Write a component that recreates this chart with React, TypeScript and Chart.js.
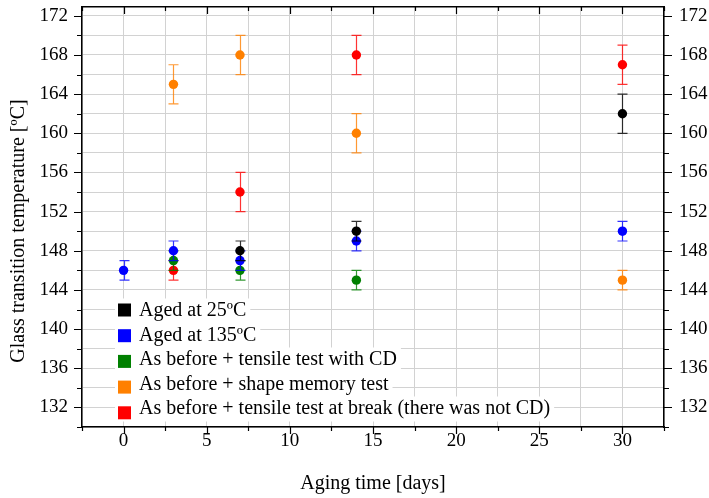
import React, { useEffect, useRef } from 'react';
import { Chart, registerables } from 'chart.js';

Chart.register(...registerables);

const FONT = "'Liberation Serif', 'Times New Roman', serif";

const seriesLabels = [
  'Aged at 25ºC',
  'Aged at 135ºC',
  'As before + tensile test with CD',
  'As before + shape memory test',
  'As before + tensile test at break (there was not CD)',
];
const seriesColors = ['#000000', '#0000ff', '#008000', '#ff8000', '#ff0000'];

const days25 = [7, 14, 30];
const tg25 = [148, 150, 162];
const err25 = [1, 1, 2];

const days135 = [0, 3, 7, 14, 30];
const tg135 = [146, 148, 147, 149, 150];
const err135 = [1, 1, 1, 1, 1];

const daysCD = [3, 7, 14];
const tgCD = [147, 146, 145];
const errCD = [1, 1, 1];

const daysSM = [3, 7, 14, 30];
const tgSM = [165, 168, 160, 145];
const errSM = [2, 2, 2, 1];

const daysBreak = [3, 7, 14, 30];
const tgBreak = [146, 154, 168, 167];
const errBreak = [1, 2, 2, 2];

const xTickLabels = [0, 5, 10, 15, 20, 25, 30];
const yTickLabels = [132, 136, 140, 144, 148, 152, 156, 160, 164, 168, 172];

const xTitle = 'Aging time [days]';
const yTitle = 'Glass transition temperature [ºC]';

const X_MIN = -2.5;
const X_MAX = 32.5;
const Y_MIN = 130;
const Y_MAX = 172.9;

const xGridValues: number[] = [];
for (let v = X_MIN; v <= X_MAX + 1e-6; v += 2.5) xGridValues.push(v);
const yGridValues: number[] = [];
for (let v = Y_MIN; v <= 172 + 1e-6; v += 2) yGridValues.push(v);

export default function App() {
  const ref = useRef<HTMLCanvasElement>(null);

  useEffect(() => {
    const canvas = ref.current;
    if (!canvas) return;

    const xsAll = [days25, days135, daysCD, daysSM, daysBreak];
    const ysAll = [tg25, tg135, tgCD, tgSM, tgBreak];
    const esAll = [err25, err135, errCD, errSM, errBreak];

    const datasets: any[] = seriesLabels.map((label, k) => ({
      label,
      data: xsAll[k].map((x, i) => ({ x, y: ysAll[k][i] })),
      errors: esAll[k],
      backgroundColor: seriesColors[k],
      borderColor: seriesColors[k],
      pointRadius: 4.7,
      pointHoverRadius: 4.7,
      pointBorderWidth: 0,
      showLine: false,
    }));

    const errorBars = {
      id: 'errorBars',
      beforeDatasetDraw(chart: any, args: any) {
        const ds = chart.data.datasets[args.index];
        const xs = chart.scales.x;
        const ys = chart.scales.y;
        const ctx = chart.ctx;
        ctx.save();
        ctx.strokeStyle = ds.borderColor;
        ctx.globalAlpha = 0.8;
        ctx.lineWidth = 1.2;
        ds.data.forEach((p: any, i: number) => {
          const e = ds.errors[i];
          const px = Math.round(xs.getPixelForValue(p.x)) + 0.5;
          const top = ys.getPixelForValue(p.y + e);
          const bot = ys.getPixelForValue(p.y - e);
          ctx.beginPath();
          ctx.moveTo(px, top);
          ctx.lineTo(px, bot);
          ctx.moveTo(px - 5, top);
          ctx.lineTo(px + 5, top);
          ctx.moveTo(px - 5, bot);
          ctx.lineTo(px + 5, bot);
          ctx.stroke();
        });
        ctx.restore();
      },
    };

    const decorations = {
      id: 'decorations',
      afterDraw(chart: any) {
        const ctx = chart.ctx;
        const xs = chart.scales.x;
        const ys = chart.scales.y;
        const { left, right, top, bottom } = chart.chartArea;
        ctx.save();
        ctx.strokeStyle = '#000';
        ctx.lineWidth = 1.2;
        ctx.beginPath();
        yGridValues.forEach((v) => {
          const py = Math.round(ys.getPixelForValue(v)) + 0.5;
          const len = v % 4 === 0 ? 8 : 5;
          ctx.moveTo(left, py);
          ctx.lineTo(left - len, py);
          ctx.moveTo(right, py);
          ctx.lineTo(right + len, py);
        });
        xGridValues.forEach((v) => {
          const px = Math.round(xs.getPixelForValue(v)) + 0.5;
          const major = Math.abs(v % 5) < 1e-6;
          ctx.moveTo(px, bottom);
          ctx.lineTo(px, bottom + (major ? 7 : 4));
          ctx.moveTo(px, top);
          ctx.lineTo(px, top + (major ? 7 : 4));
        });
        ctx.stroke();

        // y title
        ctx.fillStyle = '#000';
        ctx.font = `20px ${FONT}`;
        ctx.textAlign = 'center';
        ctx.textBaseline = 'middle';
        ctx.translate(19, 231);
        ctx.rotate(-Math.PI / 2);
        ctx.fillText(yTitle, 0, 0);
        ctx.setTransform(1, 0, 0, 1, 0, 0);

        // legend
        ctx.font = `20px ${FONT}`;
        ctx.textAlign = 'left';
        ctx.textBaseline = 'middle';
        const dsets = chart.data.datasets;
        dsets.forEach((ds: any, i: number) => {
          const ty = bottom - 116 + 24.5 * i;
          const w = ctx.measureText(ds.label).width;
          ctx.fillStyle = '#fff';
          ctx.fillRect(left + 33, ty - 12.5, w + 28, 25);
        });
        dsets.forEach((ds: any, i: number) => {
          const ty = bottom - 116 + 24.5 * i;
          const by = bottom - 117 + 25.7 * i;
          ctx.fillStyle = ds.backgroundColor;
          ctx.fillRect(left + 36, by - 6.5, 13, 13);
          ctx.fillStyle = '#000';
          ctx.fillText(ds.label, left + 57, ty);
        });
        ctx.restore();
      },
    };

    const noPad = (s: any) => {
      s.paddingTop = 0;
      s.paddingBottom = 0;
      s.paddingLeft = 0;
      s.paddingRight = 0;
    };
    const setXTicks = (s: any) => {
      s.ticks = xGridValues.map((v) => ({ value: v }));
    };
    const setYTicks = (s: any) => {
      s.ticks = yGridValues.map((v) => ({ value: v }));
    };

    const chart = new Chart(canvas, {
      type: 'scatter',
      data: { datasets },
      options: {
        responsive: false,
        devicePixelRatio: 1,
        animation: false,
        layout: { padding: 0 },
        plugins: {
          legend: { display: false },
          tooltip: { enabled: false },
        },
        scales: {
          x: {
            type: 'linear',
            position: 'bottom',
            min: X_MIN,
            max: X_MAX,
            afterBuildTicks: setXTicks,
            ticks: {
              autoSkip: false,
              maxRotation: 0,
              padding: 3,
              color: '#000',
              font: { family: FONT, size: 19 },
              callback: (v: any) => (xTickLabels.includes(Number(v)) ? String(v) : ''),
            },
            grid: { color: '#d2d2d2', lineWidth: 1, drawTicks: false },
            border: { display: true, color: '#000', width: 1.5 },
            title: {
              display: true,
              text: xTitle,
              color: '#000',
              font: { family: FONT, size: 20 },
              padding: { top: 0, bottom: 2 },
            },
            afterFit: (s: any) => {
              s.height = 71;
              noPad(s);
            },
          },
          x2: {
            type: 'linear',
            position: 'top',
            min: X_MIN,
            max: X_MAX,
            afterBuildTicks: setXTicks,
            ticks: { display: false },
            grid: { display: false, drawTicks: false },
            border: { display: true, color: '#000', width: 1.5 },
            afterFit: (s: any) => {
              s.height = 7;
              noPad(s);
            },
          },
          y: {
            type: 'linear',
            position: 'left',
            min: Y_MIN,
            max: Y_MAX,
            afterBuildTicks: setYTicks,
            ticks: {
              autoSkip: false,
              padding: 14,
              color: '#000',
              font: { family: FONT, size: 19 },
              callback: (v: any) => (yTickLabels.includes(Number(v)) ? String(v) : ''),
            },
            grid: { color: '#d2d2d2', lineWidth: 1, drawTicks: false },
            border: { display: true, color: '#000', width: 1.5 },
            afterFit: (s: any) => {
              s.width = 82;
              noPad(s);
            },
          },
          y2: {
            type: 'linear',
            position: 'right',
            min: Y_MIN,
            max: Y_MAX,
            afterBuildTicks: setYTicks,
            ticks: {
              autoSkip: false,
              padding: 15,
              color: '#000',
              font: { family: FONT, size: 19 },
              callback: (v: any) => (yTickLabels.includes(Number(v)) ? String(v) : ''),
            },
            grid: { display: false, drawTicks: false },
            border: { display: true, color: '#000', width: 1.5 },
            afterFit: (s: any) => {
              s.width = 45;
              noPad(s);
            },
          },
        },
      } as any,
      plugins: [errorBars, decorations],
    });

    return () => chart.destroy();
  }, []);

  return (
    <div style={{ position: 'fixed', left: 0, top: 0, width: 709, height: 498, background: '#fff' }}>
      <canvas ref={ref} width={709} height={498} style={{ display: 'block', width: 709, height: 498 }} />
    </div>
  );
}
